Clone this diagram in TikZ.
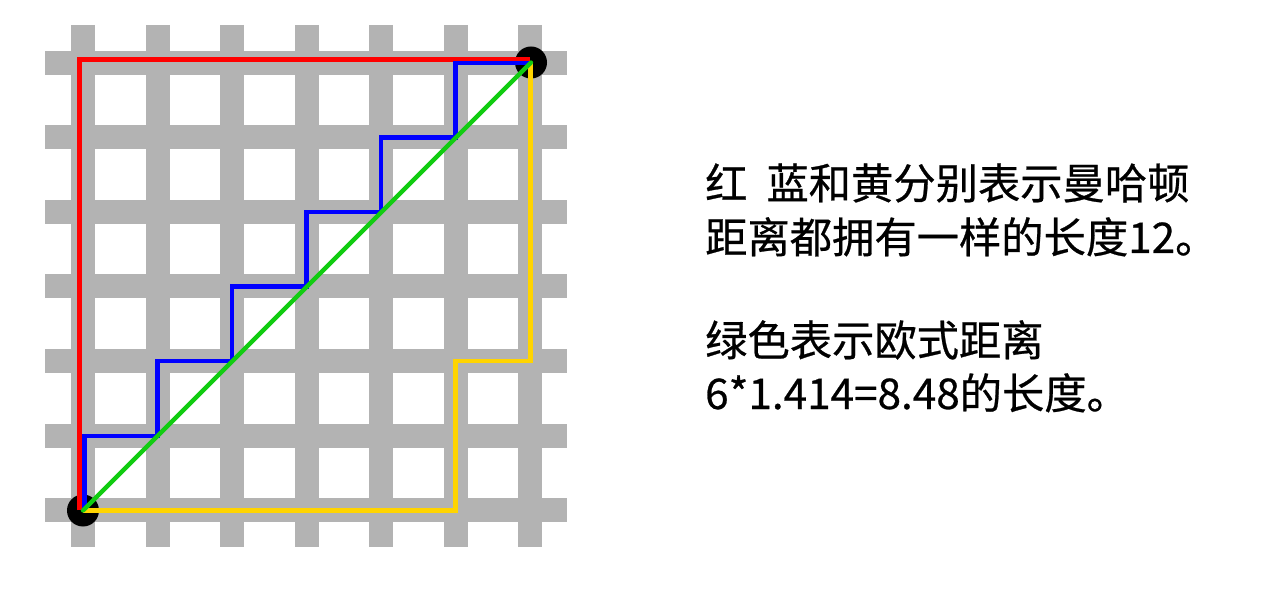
\documentclass[tikz,border=0pt]{standalone}
\usepackage{fontspec}
\newfontfamily\cjk[FakeBold=0.6]{Noto Sans CJK SC}
\definecolor{gridgray}{RGB}{179,179,179}
\definecolor{pathred}{RGB}{255,0,0}
\definecolor{pathblue}{RGB}{0,0,255}
\definecolor{pathyellow}{RGB}{255,212,0}
\definecolor{pathgreen}{RGB}{17,204,17}
\tikzset{
  gridbar/.style={gridgray, line width=24pt, line cap=butt},
  pathline/.style={line width=4.3pt, line join=miter, line cap=butt},
  enddot/.style={circle, fill=black, minimum size=32pt, inner sep=0pt},
  label/.style={anchor=base west, inner sep=0pt, font=\cjk\fontsize{42.3pt}{50pt}\selectfont}
}
\begin{document}
\begin{tikzpicture}[x=1pt, y=-1pt]
\useasboundingbox (0,0) rectangle (1270,596);
% grid
\foreach \i in {0,...,6} {
  \draw[gridbar] ({83+74.5*\i},25) -- ({83+74.5*\i},547);
  \draw[gridbar] (45,{63+74.5*\i}) -- (567,{63+74.5*\i});
}
% end points
\node[enddot] (A) at (83,510.5) {};
\node[enddot] (B) at (531,62.5) {};
% red
\draw[pathline, pathred] (79.5,510) -- (79.5,59.5) -- (530,59.5);
% blue
\draw[pathline, pathblue] (84.5,510) -- (84.5,436) -- (157.5,436) -- (157.5,361) -- (232,361) -- (232,286.5) -- (306.5,286.5) -- (306.5,212) -- (381,212) -- (381,137.5) -- (455.5,137.5) -- (455.5,63) -- (530,63);
% yellow
\draw[pathline, pathyellow] (83,510.5) -- (455.5,510.5) -- (455.5,361) -- (530.5,361) -- (530.5,63);
% green
\draw[pathline, pathgreen, line cap=round] (A.center) -- (B.center);
% text
\node[label] (t1) at (705,199) {红\hspace{19pt}蓝和黄分别表示曼哈顿};
\node[label] (t2) at (705,253) {距离都拥有一样的长度12。};
\node[label] (t3) at (705,356) {绿色表示欧式距离};
\node[label] (t4) at (705,409) {6*1.414=8.48的长度。};
\end{tikzpicture}
\end{document}
